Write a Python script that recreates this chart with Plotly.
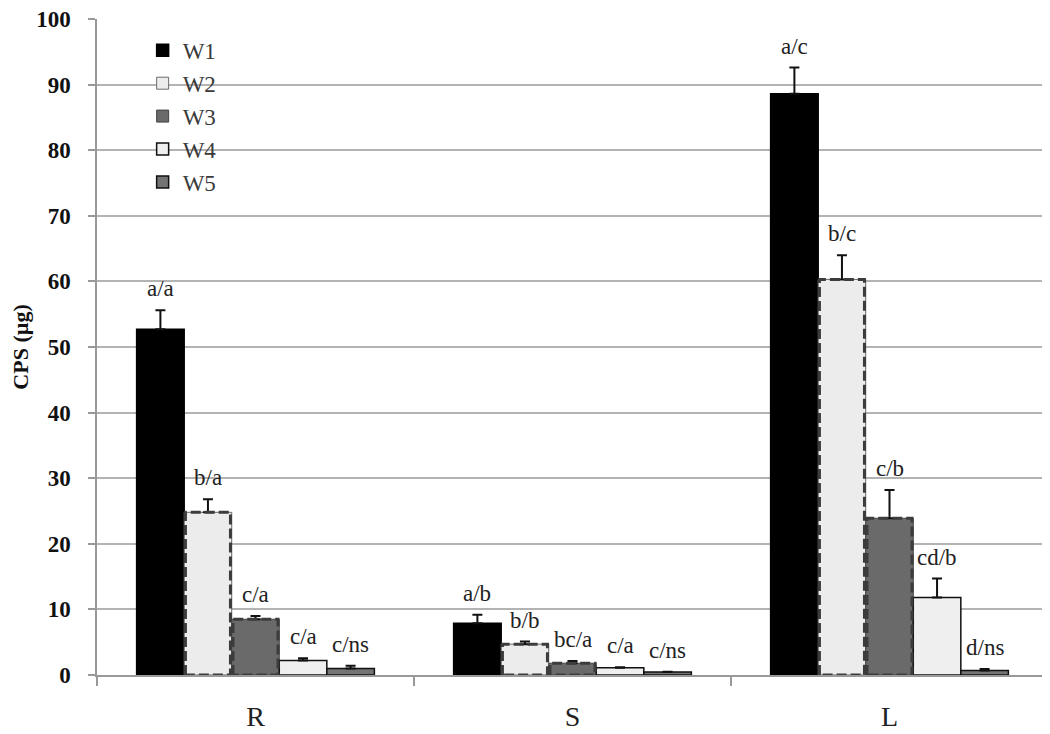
import plotly.graph_objects as go

categories = ["R", "S", "L"]
series_names = ["W1", "W2", "W3", "W4", "W5"]
w1 = [52.7, 7.9, 88.6]
w2 = [24.8, 4.7, 60.3]
w3 = [8.5, 1.8, 23.9]
w4 = [2.2, 1.1, 11.8]
w5 = [1.0, 0.45, 0.7]
w1_err = [2.9, 1.3, 4.0]
w2_err = [2.0, 0.4, 3.7]
w3_err = [0.5, 0.35, 4.3]
w4_err = [0.35, 0.1, 2.9]
w5_err = [0.4, 0.05, 0.2]
w1_lab = ["a/a", "a/b", "a/c"]
w2_lab = ["b/a", "b/b", "b/c"]
w3_lab = ["c/a", "bc/a", "c/b"]
w4_lab = ["c/a", "c/a", "cd/b"]
w5_lab = ["c/ns", "c/ns", "d/ns"]
y_ticks = [0, 10, 20, 30, 40, 50, 60, 70, 80, 90, 100]

values = [w1, w2, w3, w4, w5]
errors = [w1_err, w2_err, w3_err, w4_err, w5_err]
labels = [w1_lab, w2_lab, w3_lab, w4_lab, w5_lab]

fills = ["#000000", "#ececec", "#6a6a6a", "#efefef", "#747474"]
lines = ["#000000", "#6a6a6a", "#444444", "#111111", "#111111"]
line_w = [1.5, 1, 1, 1.5, 1.5]
dashed = [False, True, True, False, False]

BW = 0.15
START = -0.375
xs = list(range(len(categories)))
SERIF = "Times New Roman, Liberation Serif, serif"

fig = go.Figure()
annotations = []
for i, name in enumerate(series_names):
    off = START + i * BW
    fig.add_trace(go.Bar(
        x=xs, y=values[i], name=name, width=BW, offset=off,
        marker=dict(color=fills[i], line=dict(color=lines[i], width=line_w[i])),
        error_y=dict(type="data", array=errors[i], arrayminus=[0] * 3,
                     symmetric=False, color="#111111", thickness=2, width=5),
    ))
    if dashed[i]:
        ox, oy = [], []
        for x, v in zip(xs, values[i]):
            l = x + off + 0.004
            r = x + off + BW - 0.004
            ox += [l, l, r, r, l, None]
            oy += [0, v, v, 0, 0, None]
        fig.add_trace(go.Scatter(
            x=ox, y=oy, mode="lines", showlegend=False, hoverinfo="skip",
            line=dict(color="#3c3c3c", width=3, dash="10px,4px"),
        ))
    for x, v, e, t in zip(xs, values[i], errors[i], labels[i]):
        annotations.append(dict(
            x=x + off + BW / 2, y=v + e, text=t, showarrow=False,
            xref="x", yref="y", yanchor="bottom", yshift=7,
            font=dict(family=SERIF, size=23, color="#222222"),
        ))

fig.update_layout(
    width=1050, height=726,
    margin=dict(l=89, r=10, t=11, b=59),
    paper_bgcolor="white", plot_bgcolor="white",
    barmode="overlay",
    annotations=annotations,
    showlegend=True,
    legend=dict(x=0.048, y=0.985, xanchor="left", yanchor="top",
                bgcolor="rgba(0,0,0,0)",
                font=dict(family=SERIF, size=23, color="#3a3a3a"),
                itemwidth=30),
    xaxis=dict(
        range=[-0.5, 2.5], tickvals=xs, ticktext=categories,
        ticks="", showgrid=False, zeroline=False, automargin=False,
        showline=True, linecolor="#999999", linewidth=1.5,
        tickfont=dict(family=SERIF, size=28, color="#222222"),
        ticklabelstandoff=16,
        minor=dict(tick0=-0.5, dtick=1, ticks="outside", ticklen=9,
                   tickcolor="#999999", tickwidth=1.5, showgrid=False),
    ),
    yaxis=dict(
        range=[0, 100], tickvals=y_ticks, automargin=False,
        ticks="outside", ticklen=7, tickcolor="#999999", tickwidth=1.5,
        showgrid=True, gridcolor="#b3b3b3", gridwidth=1.5,
        zeroline=False, showline=True, linecolor="#999999", linewidth=1.5,
        ticklabeloverflow="allow", ticklabelstandoff=13,
        tickfont=dict(family=SERIF, size=23, color="#111111", weight="bold"),
        title=dict(text="<b>CPS (µg)</b>", standoff=4,
                   font=dict(family=SERIF, size=22, color="#111111")),
    ),
)

fig.write_html("out.html")
